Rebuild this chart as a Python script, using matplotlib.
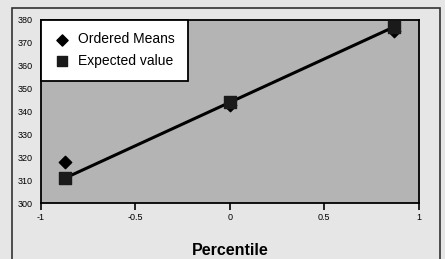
import matplotlib.pyplot as plt
from matplotlib.patches import Rectangle

# data
percentile = [-0.87, 0.0, 0.87]
ordered_means = [318, 343, 375]
expected_value = [311, 344, 377]

xticks = [-1, -0.5, 0, 0.5, 1]
xtick_labels = ["-1", "-0.5", "0", "0.5", "1"]
yticks = [300, 310, 320, 330, 340, 350, 360, 370, 380]

plt.rcParams['font.family'] = ['Liberation Sans', 'DejaVu Sans']

fig = plt.figure(figsize=(4.45, 2.59), dpi=100, facecolor='#e6e6e6')
ax = fig.add_axes([0.092, 0.216, 0.849, 0.707])
ax.set_facecolor('#b4b4b4')

# line through expected values
ax.plot(percentile, expected_value, color='black', lw=2.2, zorder=2)
ax.scatter(percentile, ordered_means, marker='D', s=40, color='black',
           zorder=3, label='Ordered Means')
ax.scatter(percentile, expected_value, marker='s', s=70, color='#1a1a1a',
           zorder=3, label='Expected value')

ax.set_xlim(-1, 1)
ax.set_ylim(300, 380)
ax.set_xticks(xticks)
ax.set_xticklabels(xtick_labels)
ax.set_yticks(yticks)
ax.tick_params(axis='x', direction='out', length=5, width=1.2, labelsize=6.5, pad=2)
ax.tick_params(axis='y', length=0, labelsize=6.5, pad=6)
for s in ax.spines.values():
    s.set_linewidth(1.3)
    s.set_color('black')

ax.set_xlabel('Percentile', fontsize=11.5, fontweight='bold', labelpad=15)

leg = ax.legend(loc='upper left', bbox_to_anchor=(0.0, 1.0), fontsize=10,
                frameon=True, fancybox=False, edgecolor='black',
                framealpha=1, borderpad=0.9, handletextpad=0.6,
                handlelength=1.2, labelspacing=0.55, borderaxespad=0.0,
                markerscale=0.9)
leg.get_frame().set_linewidth(1.3)

# outer frame of the scanned chart
fig.patches.append(Rectangle((12 / 445, -0.05), 428 / 445, 1.02,
                             transform=fig.transFigure, fill=False,
                             edgecolor='#333333', lw=1.2))

fig.savefig('out.png', dpi=100, facecolor=fig.get_facecolor())
